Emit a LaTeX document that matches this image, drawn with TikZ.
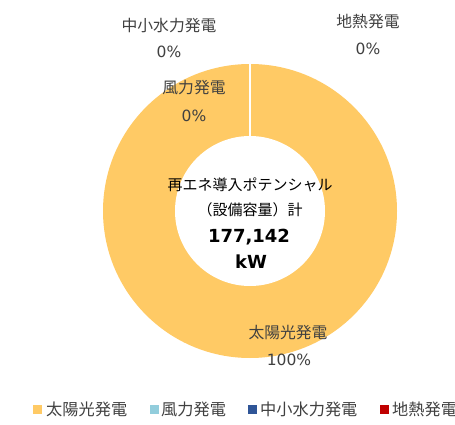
\documentclass[tikz,border=0pt]{standalone}
\usepackage{fontspec}
\setmainfont{DejaVu Sans}
\newfontfamily\jp{Noto Sans CJK JP}
\definecolor{solar}{HTML}{FFCA65}
\definecolor{wind}{HTML}{92CDDC}
\definecolor{hydro}{HTML}{2F5597}
\definecolor{geo}{HTML}{C00000}
\definecolor{lbl}{HTML}{404040}
\begin{document}
\begin{tikzpicture}[x=1pt,y=-1pt,
  lab/.style={inner sep=0pt,text=lbl,font=\fontsize{15.8}{18}\selectfont\jp},
  pct/.style={inner sep=0pt,text=lbl,font=\fontsize{15.5}{18}\selectfont},
  ctr/.style={inner sep=0pt,text=black,font=\fontsize{15}{18}\selectfont\jp},
  big/.style={inner sep=0pt,text=black,font=\fontsize{18}{22}\selectfont\bfseries},
  legbox/.style={minimum size=9pt,inner sep=0pt,draw=none},
  legtxt/.style={inner sep=0pt,anchor=west,text=lbl,font=\fontsize{16.2}{18}\selectfont\jp}]
\useasboundingbox (0,0) rectangle (455,425);
\fill[white] (0,0) rectangle (455,425);
% donut
\coordinate (c) at (250,211);
\fill[solar] (c) circle[radius=147pt];
\fill[white] (c) circle[radius=75pt];
\coordinate (gtop) at (250,63);
\coordinate (gbot) at (250,137);
\draw[white,line width=1.5pt] (gtop) -- (gbot);
% labels
\node[lab] (hyd) at (169,26) {中小水力発電};
\node[pct] (hydp) at (169,52) {0\%};
\node[lab] (geol) at (368,22) {地熱発電};
\node[pct] (geop) at (368,49) {0\%};
\node[lab] (wnd) at (194,88) {風力発電};
\node[pct] (wndp) at (194,116) {0\%};
\node[lab] (sol) at (288,333) {太陽光発電};
\node[pct] (solp) at (289,360) {100\%};
% center
\node[ctr] (t1) at (250,185) {再エネ導入ポテンシャル};
\node[ctr] (t2) at (250,210) {（設備容量）計};
\node[big] (t3) at (249,237) {177,142};
\node[big] (t4) at (251,262) {kW};
% legend
\node[legbox,fill=solar] (l1) at (37.5,409) {};
\node[legtxt] (l1t) at (46,409) {太陽光発電};
\node[legbox,fill=wind] (l2) at (154,409) {};
\node[legtxt] (l2t) at (161,409) {風力発電};
\node[legbox,fill=hydro] (l3) at (252.5,409) {};
\node[legtxt] (l3t) at (260,409) {中小水力発電};
\node[legbox,fill=geo] (l4) at (384.5,409) {};
\node[legtxt] (l4t) at (392,409) {地熱発電};
\end{tikzpicture}
\end{document}
